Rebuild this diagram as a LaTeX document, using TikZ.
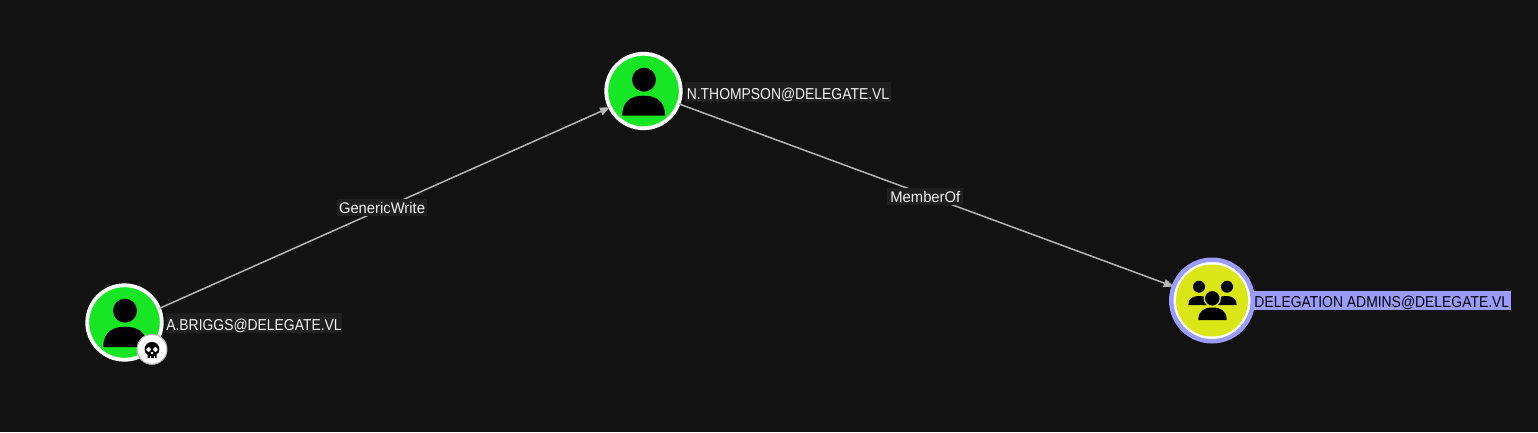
\documentclass[tikz,border=0pt]{standalone}
\usepackage{fontspec}
\setmainfont{Liberation Sans}
\newfontfamily\namefont[FakeStretch=0.88]{Liberation Sans}
\newfontfamily\edgefont[FakeStretch=0.96]{Liberation Sans}
\usetikzlibrary{arrows.meta}
\definecolor{bgc}{HTML}{121212}
\definecolor{labc}{HTML}{1F1F1F}
\definecolor{grn}{HTML}{17E625}
\definecolor{yel}{HTML}{DBE617}
\definecolor{ring}{HTML}{9A9CFF}
\definecolor{edgec}{HTML}{B4B4B4}
\definecolor{txt}{HTML}{F2F2F2}
\tikzset{
 x=1pt,y=-1pt,
 usernode/.style={circle,inner sep=0,outer sep=0,draw=white,line width=3.8pt,fill=grn,minimum size=74.5pt},
 groupnode/.style={circle,inner sep=0,outer sep=0,draw=ring,line width=4.5pt,fill=white,minimum size=81.5pt},
 groupcore/.style={circle,inner sep=0,outer sep=0,fill=yel,minimum size=72pt},
 badge/.style={circle,inner sep=0,outer sep=0,draw=gray!60,line width=1pt,fill=white,minimum size=30pt},
 namelabel/.style={inner sep=0,outer sep=0,fill=labc,text=txt,font=\namefont\fontsize{15.8}{18}\selectfont,text height=14pt,text depth=0pt,minimum height=19.5pt},
 edgelabel/.style={inner sep=0,outer sep=0,fill=labc,text=txt,font=\edgefont\fontsize{15.4}{18}\selectfont,text height=13pt,text depth=1pt,minimum height=17pt},
 link/.style={draw=edgec,line width=1.5pt,-{Triangle[length=10pt,width=8pt,fill=edgec!90!white]}},
}
% person torso: flat bottom, domed top
\newcommand{\personbody}[4]{\fill[black] (#1,#4) .. controls (#1,{#3+0.25*(#4-#3)}) and ({#1+0.22*(#2-#1)},#3) .. ({(#1+#2)/2},#3) .. controls ({#2-0.22*(#2-#1)},#3) and (#2,{#3+0.25*(#4-#3)}) .. (#2,#4) -- cycle;}
\begin{document}
\begin{tikzpicture}
\useasboundingbox (0,0) rectangle (1538,432);
\fill[bgc] (0,0) rectangle (1538,432);
% nodes
\node[usernode] (briggs) at (124.5,322.5) {};
\node[usernode] (thompson) at (643.5,91) {};
\node[groupnode] (admins) at (1212,300.5) {};
\node[groupcore] (adminscore) at (1212,300.5) {};
% icons
\fill[black] (125,310.7) circle[radius=12];
\personbody{103.3}{147}{326.7}{347}
\fill[black] (644,79.7) circle[radius=12];
\personbody{622.3}{665}{95.7}{115.7}
\fill[black] (1199,286.7) circle[radius=6];
\fill[black] (1227,286.7) circle[radius=6];
\personbody{1188.3}{1210}{296}{305}
\personbody{1215}{1236.7}{296}{305}
\fill[black,draw=yel,line width=1.3pt] (1212.3,298.3) circle[radius=8];
\personbody{1198.3}{1226.7}{307.5}{320}
% badge
\node[badge] (skullbadge) at (152,349.3) {};
\fill[black] (147.5,358) -- (147.5,354.6) .. controls (145.6,353.5) and (144.6,351.8) .. (144.6,349.4) .. controls (144.6,344.8) and (148,342) .. (152,342) .. controls (156,342) and (159.4,344.8) .. (159.4,349.4) .. controls (159.4,351.8) and (158.4,353.5) .. (156.5,354.6) -- (156.5,358) -- cycle;
\fill[white] (148.6,349.5) circle[radius=2.3];
\fill[white] (155.4,349.5) circle[radius=2.3];
\fill[white] (151.3,352.4) rectangle (152.7,354);
\fill[white] (149.6,356) rectangle (150.3,358);
\fill[white] (153.7,356) rectangle (154.4,358);
% connectors
\draw[link] (briggs.22) -- (thompson.206);
\draw[link] (thompson.-20) -- (admins.160);
% labels
\node[edgelabel,minimum width=90.6pt] (lgw) at (382,207.3) {GenericWrite};
\node[edgelabel,minimum width=76pt] (lmo) at (925.3,196.6) {MemberOf};
\node[namelabel,minimum width=173.4pt] (lbriggs) at (254,323) {A.BRIGGS@DELEGATE.VL};
\node[namelabel,minimum width=206pt] (lthompson) at (788,92) {N.THOMPSON@DELEGATE.VL};
\node[namelabel,minimum width=258.3pt,fill=ring,text=black] (ladmins) at (1381.8,300.7) {DELEGATION ADMINS@DELEGATE.VL};
\end{tikzpicture}
\end{document}
